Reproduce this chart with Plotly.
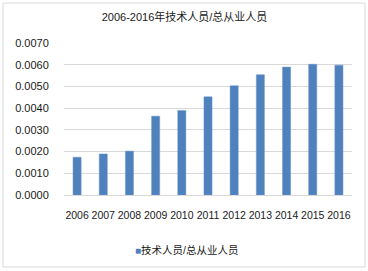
import plotly.graph_objects as go

years = ["2006", "2007", "2008", "2009", "2010", "2011", "2012", "2013", "2014", "2015", "2016"]
ratio = [0.00174, 0.00189, 0.00202, 0.00363, 0.00389, 0.00452, 0.00503, 0.00554, 0.00589, 0.00602, 0.00598]
series_name = "技术人员/总从业人员"
title_text = "2006-2016年技术人员/总从业人员"
y_ticks = [0.0, 0.001, 0.002, 0.003, 0.004, 0.005, 0.006, 0.007]

font_family = "Liberation Sans, Noto Sans CJK SC, sans-serif"
bar_color = "#4f81bd"

W, H = 368, 271
L, R, T, B = 64, 16, 43, 76
pw, ph = W - L - R, H - T - B

def px_x(x):
    return (x - L) / pw

def px_y(y):
    return (H - B - y) / ph

fig = go.Figure()
fig.add_trace(go.Bar(
    x=years, y=ratio, name=series_name,
    marker=dict(color=bar_color, line=dict(color="#6a96cc", width=0.5)),
    showlegend=False,
))

fig.update_layout(
    width=W, height=H,
    margin=dict(l=L, r=R, t=T, b=B, pad=0, autoexpand=False),
    paper_bgcolor="white", plot_bgcolor="white",
    font=dict(family=font_family, size=11, color="#1a1a1a"),
    bargap=0.69,
    showlegend=False,
    title=dict(text=title_text, x=px_x(184.5), xref="paper", xanchor="center",
               y=1 - 17 / H, yref="container", yanchor="middle",
               font=dict(family=font_family, size=11, color="#1a1a1a")),
    xaxis=dict(type="category", showgrid=False, showline=True, linecolor="#d9d9d9", linewidth=1,
               ticks="outside", ticklen=10, tickcolor="rgba(0,0,0,0)", tickangle=0,
               tickfont=dict(size=10.5), zeroline=False, automargin=False),
    yaxis=dict(range=[0, 0.007], tickvals=y_ticks, tickformat=".4f",
               showgrid=True, gridcolor="#d9d9d9", gridwidth=1,
               zeroline=False, showline=False, automargin=False,
               ticks="outside", ticklen=12, tickcolor="rgba(0,0,0,0)",
               tickfont=dict(size=11)),
    annotations=[dict(
        text=f"<span style='color:{bar_color};font-size:10px'>■</span>{series_name}",
        x=px_x(186), y=px_y(250), xref="paper", yref="paper",
        xanchor="center", yanchor="middle", showarrow=False,
        font=dict(size=10.5, color="#1a1a1a"))],
    shapes=[dict(type="rect", xref="paper", yref="paper",
                 x0=px_x(3), x1=px_x(365), y0=px_y(267), y1=px_y(3),
                 line=dict(color="#d9d9d9", width=1), layer="below")],
)

fig.write_html("out.html", config={"displayModeBar": False},
               post_script="document.body.style.margin='0';")
